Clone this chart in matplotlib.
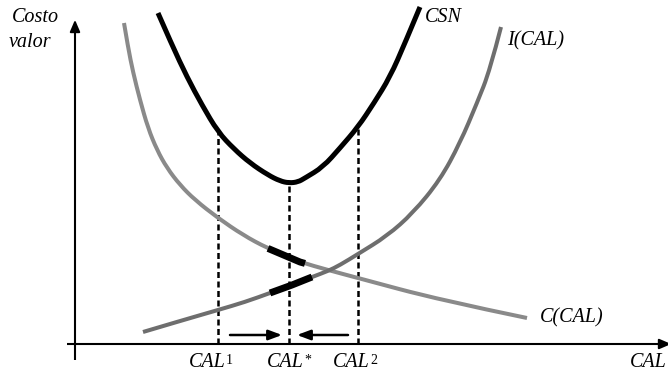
import numpy as np
import matplotlib
matplotlib.use("Agg")
import matplotlib.pyplot as plt
from matplotlib.path import Path
from matplotlib.patches import PathPatch

# Cost curves (CAL on the horizontal axis, cost/value on the vertical axis)
c_x = [49, 53, 58, 65, 73, 82, 92, 105, 120, 143, 168, 192, 225, 253, 283, 365, 452]
c_y = [321, 297, 272, 244, 216, 194, 176, 159, 144, 126, 109, 96, 82, 74, 66, 44, 26]

i_x = [68, 105, 143, 170, 195, 217, 237, 253, 265, 283, 312, 338, 365, 385, 402, 415, 426]
i_y = [12, 23, 34, 42, 51, 59, 67, 73, 79, 90, 108, 131, 164, 201, 241, 274, 317]

csn_x = [83, 97, 112, 127, 143, 159, 175, 193, 205, 214, 223, 230, 248, 265, 283, 299, 315, 330, 345]
csn_y = [331, 299, 267, 239, 212, 195, 181, 169, 163, 161, 162, 166, 177, 196, 217, 241, 267, 301, 337]

# Quality levels marked on the horizontal axis
cal_levels = [143, 214, 283]
cal_labels = ["1", "*", "2"]

# Highlighted stretches around the optimum
c_band = (193, 230)
i_band = (195, 237)

# Arrows pointing toward the optimum
arrow_right = (155, 207)
arrow_left = (273, 222)
arrow_y = 9

C_COLOR = "#8a8a8a"
I_COLOR = "#6e6e6e"
FONT = "Liberation Serif"

fig = plt.figure(figsize=(6.68, 3.73), dpi=100)
ax = fig.add_axes([0, 0, 1, 1])
ax.set_xlim(-75, 593)
ax.set_ylim(-29, 344)
ax.axis("off")


def smooth_curve(xs, ys, **kw):
    """Draw a polyline as a chain of quadratic Bezier pieces through midpoints."""
    pts = np.column_stack([xs, ys]).astype(float)
    verts = [pts[0]]
    codes = [Path.MOVETO]
    for k in range(1, len(pts) - 1):
        mid = (pts[k] + pts[k + 1]) / 2
        if k == len(pts) - 2:
            mid = pts[k + 1]
        verts += [pts[k], mid]
        codes += [Path.CURVE3, Path.CURVE3]
    if len(pts) == 2:
        verts.append(pts[1])
        codes.append(Path.LINETO)
    patch = PathPatch(Path(verts, codes), fill=False, capstyle="butt", joinstyle="round", **kw)
    ax.add_patch(patch)


def stretch(xs, ys, lo, hi):
    xs = np.asarray(xs, float)
    ys = np.asarray(ys, float)
    inner = (xs > lo) & (xs < hi)
    sx = np.concatenate([[lo], xs[inner], [hi]])
    sy = np.concatenate([[np.interp(lo, xs, ys)], ys[inner], [np.interp(hi, xs, ys)]])
    return sx, sy


# axes with arrowheads
ax.plot([-8, 600], [0, 0], color="black", lw=1.5, solid_capstyle="butt", clip_on=False)
ax.annotate("", xy=(599, 0), xytext=(585, 0),
            arrowprops=dict(arrowstyle="-|>,head_length=0.7,head_width=0.3", color="black", lw=1.5),
            annotation_clip=False)
ax.plot([0, 0], [-16, 318], color="black", lw=1.5, solid_capstyle="butt")
ax.annotate("", xy=(0, 327), xytext=(0, 310),
            arrowprops=dict(arrowstyle="-|>,head_length=0.7,head_width=0.3", color="black", lw=1.5))

# vertical dashed guides
tops = np.interp(cal_levels, csn_x, csn_y)
for xv, top in zip(cal_levels, tops):
    ax.plot([xv, xv], [0, top], color="black", lw=1.8, dashes=(2.4, 1.4), zorder=2)

# curves
smooth_curve(c_x, c_y, edgecolor=C_COLOR, lw=2.9, zorder=3)
smooth_curve(i_x, i_y, edgecolor=I_COLOR, lw=2.9, zorder=3)
smooth_curve(csn_x, csn_y, edgecolor="black", lw=3.6, zorder=4)

# highlighted stretches
for xs, ys, band in ((c_x, c_y, c_band), (i_x, i_y, i_band)):
    sx, sy = stretch(xs, ys, *band)
    ax.plot(sx, sy, color="black", lw=5, solid_capstyle="butt", zorder=5)

# arrows toward CAL*
for x0, x1 in (arrow_right, arrow_left):
    ax.annotate("", xy=(x1, arrow_y), xytext=(x0, arrow_y),
                arrowprops=dict(arrowstyle="-|>,head_length=0.8,head_width=0.3",
                                color="black", lw=1.8, shrinkA=0, shrinkB=0))

txt = dict(family=FONT, style="italic", fontsize=14.5, va="baseline")
ax.text(-63, 322, "Costo", ha="left", **txt)
ax.text(-66, 297, "valor", ha="left", **txt)
ax.text(350, 322, "CSN", ha="left", **txt)
ax.text(432, 299, "I(CAL)", ha="left", **txt)
ax.text(465, 22, "C(CAL)", ha="left", **txt)
ax.text(592, -23, "CAL", ha="right", **txt)

label_left = [114, 192, 258]
for xl, sup in zip(label_left, cal_labels):
    t = ax.text(xl, -23, "CAL", ha="left", **txt)
    ax.annotate(sup, xy=(1, 1), xycoords=t, xytext=(0.2, -0.5), textcoords="offset points",
                ha="left", va="top", family=FONT, fontsize=10)

fig.savefig("out.png", dpi=100)
